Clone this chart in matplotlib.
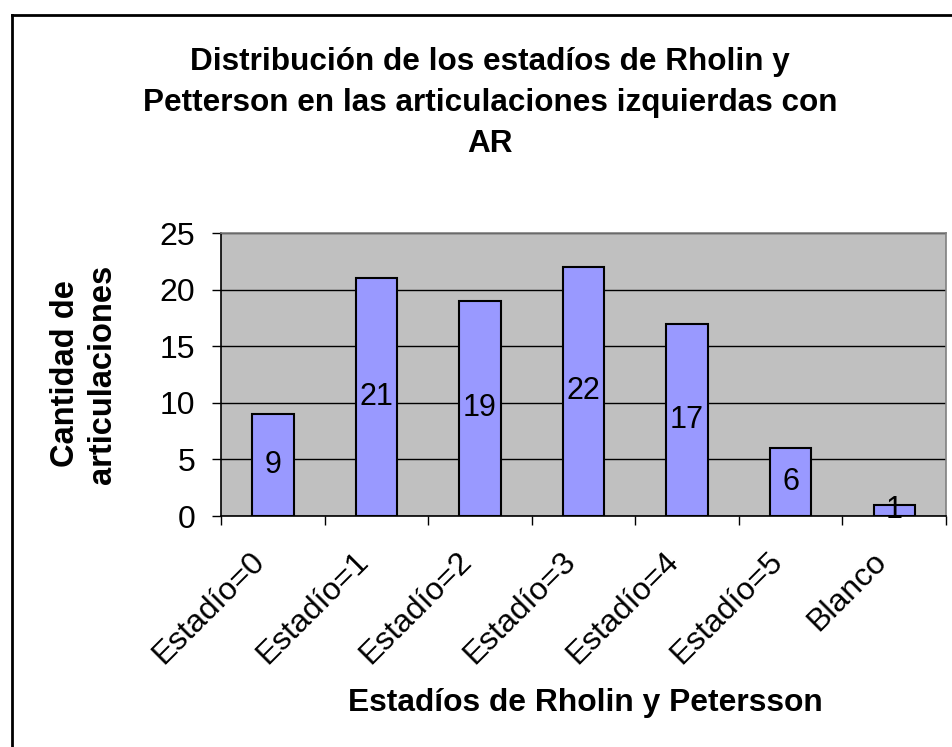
import matplotlib.pyplot as plt
import matplotlib.transforms as mtransforms
from matplotlib.lines import Line2D

categorias = ['Estadío=0', 'Estadío=1', 'Estadío=2', 'Estadío=3',
              'Estadío=4', 'Estadío=5', 'Blanco']
cantidades = [9, 21, 19, 22, 17, 6, 1]
y_ticks = [0, 5, 10, 15, 20, 25]

plt.rcParams['font.family'] = ['Liberation Sans', 'DejaVu Sans']

fig = plt.figure(figsize=(9.52, 7.47), dpi=100)
ax = fig.add_axes([221 / 952, 1 - 516 / 747, 725 / 952, 283 / 747])

x = range(len(categorias))
bars = ax.bar(x, cantidades, width=0.4, color='#9999FF', edgecolor='black',
              linewidth=1.5, zorder=3)

# labels in the middle of each bar, like Excel does
for i, v in enumerate(cantidades):
    ax.text(i, v / 2, str(v), ha='center', va='center', fontsize=22, zorder=4)

ax.set_facecolor('#C0C0C0')
ax.set_xlim(-0.5, len(categorias) - 0.5)
ax.set_ylim(0, 25)
ax.set_yticks(y_ticks)
ax.tick_params(axis='y', labelsize=23, length=6.5, width=1, direction='out', pad=12)
ax.yaxis.grid(True, color='black', linewidth=1, zorder=1)
ax.set_axisbelow(True)

# tick marks between categories, labels at category centres
ax.set_xticks([i - 0.5 for i in range(len(categorias) + 1)])
ax.set_xticklabels([])
ax.set_xticks(list(x), minor=True)
ax.set_xticklabels(categorias, minor=True, rotation=45, ha='right',
                   rotation_mode='anchor', fontsize=23)
ax.tick_params(axis='x', which='major', length=6.5, width=1)
ax.tick_params(axis='x', which='minor', length=0, pad=22)

# nudge rotated labels a bit left
shift = mtransforms.ScaledTranslation(-0.23, 0, fig.dpi_scale_trans)
for lbl in ax.get_xticklabels(minor=True):
    lbl.set_transform(lbl.get_transform() + shift)

ax.spines['left'].set_color('black')
ax.spines['bottom'].set_color('black')
ax.spines['top'].set_color('#808080')
ax.spines['right'].set_color('#808080')
for s in ax.spines.values():
    s.set_linewidth(1.2)

fig.text(490 / 952, 1 - 103 / 747,
         'Distribución de los estadíos de Rholin y\n'
         'Petterson en las articulaciones izquierdas con\nAR',
         ha='center', va='center', fontsize=22.7, fontweight='bold',
         linespacing=1.49)
fig.text(585 / 952, 1 - 703 / 747, 'Estadíos de Rholin y Petersson',
         ha='center', va='center', fontsize=22.9, fontweight='bold')
fig.text(84 / 952, 1 - 374 / 747, 'Cantidad de\narticulaciones',
         ha='center', va='center', rotation=90, fontsize=23.5,
         fontweight='bold', linespacing=1.25)

# chart border (cropped on right and bottom)
bx = 12 / 952
by = 1 - 15 / 747
fig.add_artist(Line2D([bx, bx], [0, by], color='black', linewidth=2,
                      transform=fig.transFigure))
fig.add_artist(Line2D([bx, 1], [by, by], color='black', linewidth=2,
                      transform=fig.transFigure))

fig.savefig('out.png', dpi=100)
